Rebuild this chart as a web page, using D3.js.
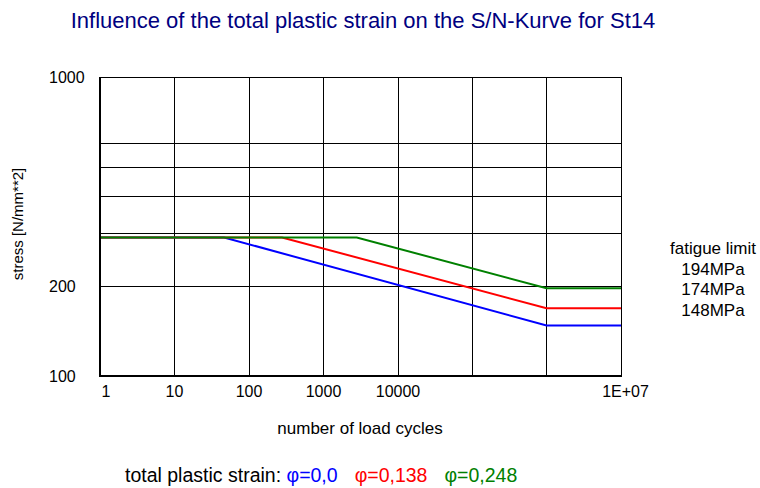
<!DOCTYPE html>
<html><head><meta charset="utf-8">
<script src="https://cdn.jsdelivr.net/npm/d3@7"></script>
<style>
body{margin:0;background:#fff}
svg{display:block}
text{font-family:"Liberation Sans",Arial,Helvetica,sans-serif}
</style>
</head><body><svg id="c" width="760" height="488"></svg>
<script>
// ---- data ----
const seriesNames = ["φ=0,0", "φ=0,138", "φ=0,248"];
const seriesColors = ["#0000ff", "#ff0000", "#008000"];
const cyclesBlue = [1, 47, 1e6, 1e7];
const stressBlue = [290, 290, 147, 147];
const cyclesRed = [1, 282, 1e6, 1e7];
const stressRed = [290, 290, 168, 168];
const cyclesGreen = [1, 2840, 1e6, 1e7];
const stressGreen = [290, 290, 196, 196];
const xTickValues = [1, 10, 100, 1000, 10000, 1e5, 1e6, 1e7];
const xTickLabels = ["1", "10", "100", "1000", "10000", "", "", "1E+07"];
const yTickValues = [100, 200, 1000];
const yTickLabels = ["100", "200", "1000"];
const yGridValues = [200, 300, 400, 500, 600];
const fatigueLabels = ["fatigue limit", "194MPa", "174MPa", "148MPa"];
const titleText = "Influence of the total plastic strain on the S/N-Kurve for St14";
const xTitle = "number of load cycles";
const yTitle = "stress [N/mm**2]";
const legendPrefix = "total plastic strain: ";

const series = [
  {x: cyclesBlue, y: stressBlue},
  {x: cyclesRed, y: stressRed},
  {x: cyclesGreen, y: stressGreen}
];

// ---- layout ----
const L = 99.5, R = 621, T = 77, B = 375.5;
const svg = d3.select("#c");
const x = d3.scaleLog().domain([1, 1e7]).range([L, R]);
const y = d3.scaleLog().domain([100, 1000]).range([B, T]);

// grid
const g = svg.append("g").attr("shape-rendering", "crispEdges");
g.selectAll("line.v").data(xTickValues.slice(1, -1)).join("line")
  .attr("x1", d => Math.round(x(d)) + 0.5).attr("x2", d => Math.round(x(d)) + 0.5)
  .attr("y1", T).attr("y2", B).attr("stroke", "#000").attr("stroke-width", 1);
g.selectAll("line.h").data(yGridValues).join("line")
  .attr("y1", d => Math.round(y(d)) + 0.5).attr("y2", d => Math.round(y(d)) + 0.5)
  .attr("x1", L).attr("x2", R).attr("stroke", "#000").attr("stroke-width", 1);

// series lines
const line = d3.line().x(d => x(d[0])).y(d => y(d[1]));
svg.append("g").selectAll("path").data(series).join("path")
  .attr("d", s => line(s.x.map((v, i) => [v, s.y[i]])))
  .attr("fill", "none")
  .attr("stroke", (s, i) => seriesColors[i])
  .attr("stroke-width", 2);

// frame
svg.append("line").attr("x1", L).attr("x2", R + 0.5).attr("y1", T + 0.5).attr("y2", T + 0.5)
  .attr("stroke", "#000").attr("stroke-width", 1).attr("shape-rendering", "crispEdges");
svg.append("line").attr("x1", R + 0.5).attr("x2", R + 0.5).attr("y1", T).attr("y2", B)
  .attr("stroke", "#000").attr("stroke-width", 1).attr("shape-rendering", "crispEdges");
svg.append("line").attr("x1", L).attr("x2", L).attr("y1", T).attr("y2", B + 1)
  .attr("stroke", "#000").attr("stroke-width", 2).attr("shape-rendering", "crispEdges");
svg.append("line").attr("x1", L - 1).attr("x2", R + 1).attr("y1", B).attr("y2", B)
  .attr("stroke", "#000").attr("stroke-width", 2).attr("shape-rendering", "crispEdges");

// x axis
const xAxis = d3.axisBottom(x).tickValues(xTickValues)
  .tickFormat((d, i) => xTickLabels[i]).tickSize(0).tickPadding(0);
const xa = svg.append("g").attr("transform", `translate(0,${B})`).call(xAxis);
xa.select(".domain").remove();
xa.selectAll("text").attr("font-size", 16).attr("fill", "#000")
  .attr("font-family", null).attr("dy", null).attr("y", 21.5)
  .attr("dx", (d, i) => i === 0 ? 6 : (i === xTickValues.length - 1 ? 4 : 0));

// y axis
const yAxis = d3.axisLeft(y).tickValues(yTickValues)
  .tickFormat((d, i) => yTickLabels[i]).tickSize(0).tickPadding(0);
const ya = svg.append("g").attr("transform", `translate(${L},0)`).call(yAxis);
ya.select(".domain").remove();
ya.selectAll("text").attr("font-size", 16).attr("fill", "#000")
  .attr("font-family", null).attr("text-anchor", "start").attr("x", 49 - L)
  .attr("dy", "0.36em");

// titles
svg.append("text").attr("x", 363).attr("y", 28).attr("text-anchor", "middle")
  .attr("font-size", 22).attr("fill", "#000080").text(titleText);
svg.append("text").attr("x", 360).attr("y", 434).attr("text-anchor", "middle")
  .attr("font-size", 17).attr("fill", "#000").text(xTitle);
svg.append("text").attr("transform", "translate(23,224) rotate(-90)")
  .attr("text-anchor", "middle").attr("font-size", 15).attr("fill", "#000").text(yTitle);

// fatigue limit text
svg.append("g").selectAll("text").data(fatigueLabels).join("text")
  .attr("x", 713).attr("y", (d, i) => 254 + i * 20.5).attr("text-anchor", "middle")
  .attr("font-size", 17).attr("fill", "#000").text(d => d);

// legend
const lg = svg.append("text").attr("x", 125).attr("y", 482).attr("font-size", 19.5).attr("fill", "#000");
lg.append("tspan").text(legendPrefix);
seriesNames.forEach((n, i) => {
  lg.append("tspan").attr("dx", i === 0 ? 0 : 17).attr("fill", seriesColors[i]).text(n);
});
</script>
</body></html>
